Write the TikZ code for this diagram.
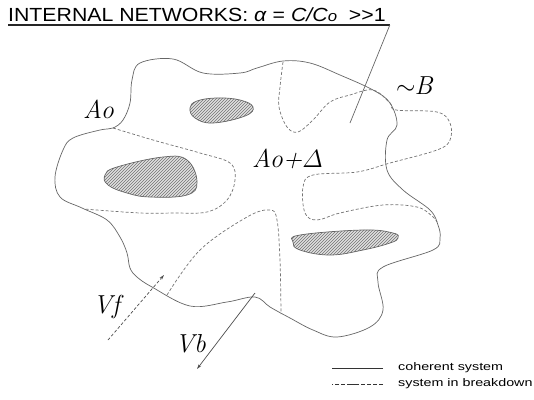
\documentclass[tikz,border=0pt]{standalone}
\usepackage{amsmath}
\usepackage{fontspec}
\newfontfamily\arialfont{Liberation Sans}
\usepackage{graphicx}
\usetikzlibrary{arrows.meta,patterns}

\begin{document}
\begin{tikzpicture}[x=1pt, y=-1pt,
  contour/.style={draw=black!60, line width=0.7pt},
  breakdown/.style={draw=black!55, line width=0.7pt, dash pattern=on 3pt off 2pt},
  core/.style={draw=black!60, line width=0.7pt, preaction={fill=black!12}, pattern=north east lines, pattern color=black!55},
  lbl/.style={inner sep=0pt, anchor=base west, font=\itshape\fontsize{26}{30}\selectfont},
  legtext/.style={inner sep=0pt, anchor=base west, font=\arialfont\fontsize{11}{13}\selectfont},
  vec/.style={-{Stealth[length=5pt,width=3pt]}, draw=black!70, line width=0.7pt}]
\useasboundingbox (0,0) rectangle (534,399);

% title and pointer to ~B
\node[inner sep=0pt, anchor=base west] (title) at (8,21)
  {\arialfont\fontsize{19}{22}\selectfont\scalebox{1.12}[1]{INTERNAL NETWORKS: \textit{α} = \textit{C/C}{\fontsize{15}{16}\selectfont\textit{o}}\ \ >>1}};
\coordinate (tip) at (350,123);
\draw[line width=1.1pt, black!85] ([yshift=-4pt]title.base west) -- ([shift={(4pt,-4pt)}]title.base east);
\draw[contour] ([shift={(4pt,-4pt)}]title.base east) -- (tip);

% coherent system
\draw[contour] plot[smooth cycle, tension=0.6] coordinates {
  (140,63) (173,59) (203,73) (240,73) (257,68) (283,61) (310,63) (340,75)
  (373,90) (390,103) (397,125) (387,140) (387,170) (403,190) (430,210)
  (438,225) (440,238) (433,250) (383,267) (378,282) (383,310) (370,327)
  (337,337) (313,330) (290,318) (270,307) (255,297) (227,302) (190,306)
  (152,287) (137,277) (130,268) (127,253) (120,237) (107,220) (82,208)
  (60,197) (55,177) (63,150) (73,138) (100,130) (113,128) (123,120)
  (130,103) (132,80)};

% system in breakdown
\draw[breakdown] plot[smooth, tension=0.6] coordinates {
  (113,128) (153,140) (200,153) (230,163) (235,180) (227,200) (207,212)
  (173,213) (140,213) (84,209)};
\draw[breakdown] plot[smooth, tension=0.6] coordinates {
  (283,62) (280,87) (279,107) (287,127) (298,132) (313,120) (330,102)
  (350,95) (373,90) (390,103) (396,110) (437,112) (450,123) (450,140)
  (437,150) (390,163) (357,172) (313,175) (303,187) (305,213) (317,220)
  (340,213) (383,205) (417,207) (432,216) (437,222)};
\draw[breakdown] plot[smooth, tension=0.6] coordinates {
  (167,295) (200,250) (247,217) (270,210) (277,220) (280,260) (281,314)};

% cores
\path[core] plot[smooth cycle, tension=0.7] coordinates {
  (190,108) (197,101) (217,98) (240,100) (253,107) (245,116) (213,123) (195,118)};
\path[core] plot[smooth cycle, tension=0.7] coordinates {
  (105,175) (117,167) (163,157) (187,160) (197,182) (187,195) (150,197)
  (127,193) (108,185)};
\path[core] plot[smooth cycle, tension=0.7] coordinates {
  (293,242) (300,235) (363,230) (393,233) (398,238) (390,243) (363,250)
  (330,255) (300,250)};

% labels
\node[lbl] (A0) at (83,118) {Ao};
\node[lbl] (A0D) at (252,167) {Ao+$\varDelta$};
\node[lbl] (B) at (396,94) {$\sim$\kern-1pt B};
\node[lbl] (Vf) at (93,313) {Vf};
\node[lbl] (Vb) at (175,352) {Vb};

% velocities
\coordinate (vf0) at (108,340);
\coordinate (vf1) at (164,275);
\coordinate (vb0) at (255,293);
\coordinate (vb1) at (197,369);
\draw[vec, dash pattern=on 3pt off 2pt] (vf0) -- (vf1);
\draw[vec] (vb0) -- (vb1);

% legend
\node[legtext] (leg1) at (398,370) {\scalebox{1.3}[1]{coherent system}};
\node[legtext] (leg2) at (398,386) {\scalebox{1.3}[1]{system in breakdown}};
\draw[contour, black!80] ([shift={(-15pt,2pt)}]leg1.base west) -- ++(-51,0);
\draw[contour, black!80, dash pattern=on 4pt off 2pt on 4pt off 2pt on 4pt off 2pt on 4pt off 2pt on 12pt off 2pt on 4pt off 2pt on 4pt off 2pt]
  ([shift={(-15pt,2pt)}]leg2.base west) -- ++(-51,0);
\end{tikzpicture}
\end{document}
